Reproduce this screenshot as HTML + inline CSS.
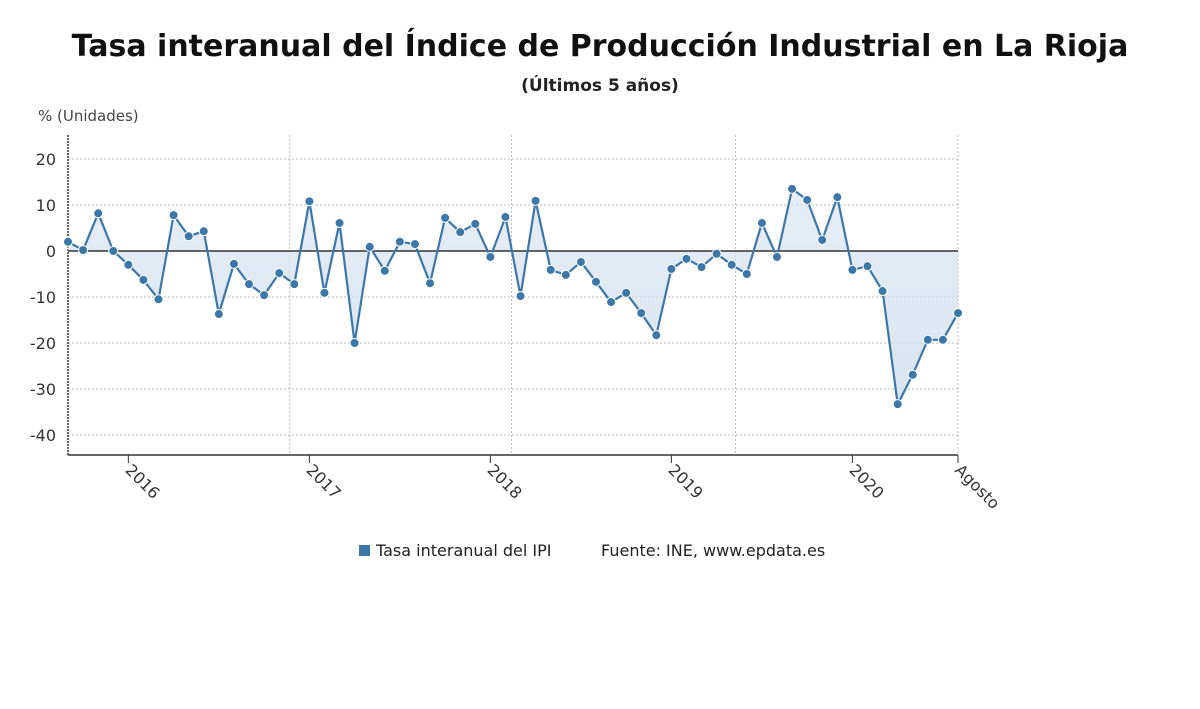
<!DOCTYPE html>
<html><head><meta charset="utf-8"><style>
body{margin:0;background:#fff;font-family:"DejaVu Sans","Liberation Sans",sans-serif;}
svg text{font-family:"DejaVu Sans","Liberation Sans",sans-serif;}
</style></head><body>
<svg width="1200" height="705" viewBox="0 0 1200 705" xmlns="http://www.w3.org/2000/svg">
<defs><linearGradient id="g" x1="0" y1="0" x2="0" y2="1">
<stop offset="0" stop-color="#dbe6f1" stop-opacity="0.7"/><stop offset="1" stop-color="#c9d9ea" stop-opacity="0.7"/></linearGradient></defs>
<text x="600" y="56" text-anchor="middle" font-size="30" font-weight="bold" fill="#111">Tasa interanual del Índice de Producción Industrial en La Rioja</text>
<text x="600" y="91" text-anchor="middle" font-size="17" font-weight="bold" fill="#222">(Últimos 5 años)</text>
<text x="38" y="121" font-size="15" fill="#444">% (Unidades)</text>
<g id="grid"></g>
<path id="area" fill="url(#g)"/>
<line x1="68" x2="958" y1="251" y2="251" stroke="#333" stroke-width="1.5"/>
<polyline id="line" fill="none" stroke="#3d77a8" stroke-width="2.2"/>
<g id="pts"></g>
<g id="xl"></g>
<rect x="359" y="545" width="11" height="11" fill="#3d77a8"/>
<text x="376" y="556" font-size="16" fill="#222">Tasa interanual del IPI</text>
<text x="601" y="556" font-size="16" fill="#222">Fuente: INE, www.epdata.es</text>
</svg>
<script>
const values=[2,0.2,8.2,0,-3,-6.3,-10.5,7.8,3.2,4.3,-13.7,-2.8,-7.2,-9.6,-4.8,-7.2,10.8,-9.1,6.1,-20,0.9,-4.3,2,1.5,-7,7.2,4.1,5.9,-1.3,7.4,-9.8,10.9,-4.1,-5.2,-2.4,-6.7,-11.1,-9.1,-13.5,-18.3,-3.9,-1.7,-3.5,-0.6,-3,-5,6.1,-1.3,13.5,11.1,2.4,11.7,-4.1,-3.3,-8.7,-33.3,-26.9,-19.3,-19.3,-13.5];
const yTicks=[20,10,0,-10,-20,-30,-40];
const xLabels=["2016","2017","2018","2019","2020","Agosto"];
const xLabelIdx=[4,16,28,40,52,59];
const vGridIdx=[14.7,29.4,44.25,59];
const NS="http://www.w3.org/2000/svg";
const X0=68,X1=958,T=135,B=455;
const x=i=>X0+i*(X1-X0)/(values.length-1);
const y=v=>251-v*4.6;
const mk=(t,a,p)=>{const e=document.createElementNS(NS,t);for(const k in a)e.setAttribute(k,a[k]);p.appendChild(e);return e;};
const grid=document.getElementById('grid');
yTicks.forEach(v=>{
 if(v!==0){const l=mk('line',{x1:X0,x2:X1,y1:y(v),y2:y(v),stroke:'#bbb','stroke-dasharray':'2,2'},grid);
 
 }
 const t=mk('text',{x:56,y:y(v)+6,'text-anchor':'end','font-size':16,fill:'#333'},grid);t.textContent=v;
 
 
});
vGridIdx.forEach(i=>{const l=mk('line',{x1:x(i),x2:x(i),y1:T,y2:B,stroke:'#bbb','stroke-dasharray':'2,2'},grid);
 
 });
const ax=mk('line',{x1:X0,x2:X0,y1:T,y2:B,stroke:'#333','stroke-width':1.5,'stroke-dasharray':'2,1'},grid);


const bx=mk('line',{x1:X0,x2:X1,y1:B,y2:B,stroke:'#333','stroke-width':1.5},grid);


const pts=values.map((v,i)=>x(i).toFixed(1)+','+y(v).toFixed(1));
document.getElementById('line').setAttribute('points',pts.join(' '));
document.getElementById('area').setAttribute('d','M'+x(0)+',251 L'+pts.join(' L')+' L'+x(values.length-1)+',251 Z');
const pg=document.getElementById('pts');
values.forEach((v,i)=>{const c=mk('circle',{cx:x(i),cy:y(v),r:4.5,fill:'#3d77a8',stroke:'#fff','stroke-width':1},pg);
 
 });
const xl=document.getElementById('xl');
xLabels.forEach((s,k)=>{const xx=x(xLabelIdx[k]);
 const tk=mk('line',{x1:xx,x2:xx,y1:B,y2:B+8,stroke:'#333'},xl);
 
 
 const t=mk('text',{x:xx-4,y:B+16,'font-size':16,fill:'#333',transform:`rotate(45 ${xx-4} ${B+16})`},xl);t.textContent=s;
 
 });
</script>
</body></html>
